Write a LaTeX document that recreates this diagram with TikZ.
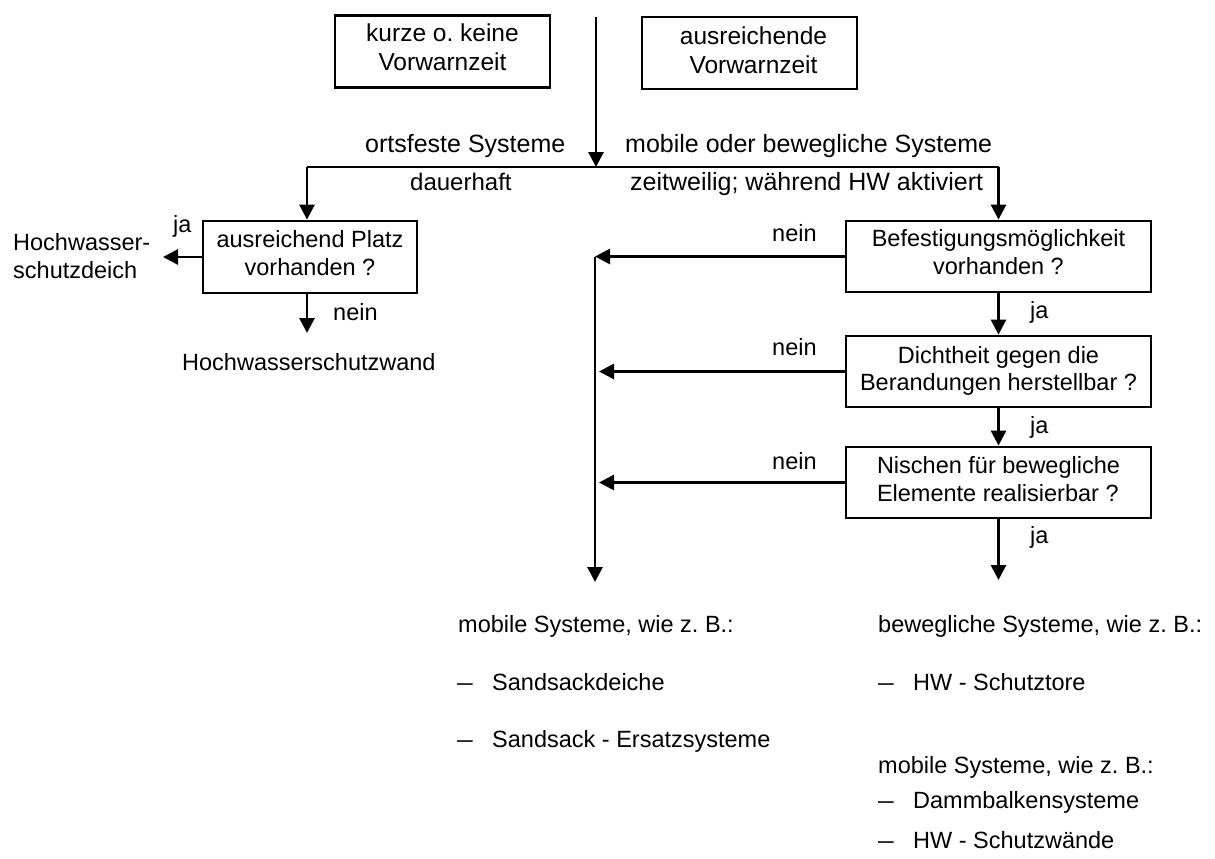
\documentclass[tikz,border=0pt]{standalone}
\usepackage{fontspec}
\setmainfont{Liberation Sans}
\usepackage{graphicx}
\usetikzlibrary{arrows.meta}
\newcommand\myfs[2]{\fontsize{#1}{#2}\selectfont}
\newcommand\mydash{\scalebox{1.2}[1]{–}}
\tikzset{
  ln/.style={line width=2.8pt},
  arr/.style={ln, -{Triangle[length=15pt,width=15pt]}},
  box/.style={draw, line width=2.8pt, inner sep=0pt, align=center, font=\myfs{23.5}{27.5}},
  topbox/.style={box, minimum width=215pt, minimum height=72pt, font=\myfs{24.5}{29}},
  qbox/.style={box, minimum width=305pt, minimum height=71pt},
  lbl/.style={inner sep=0pt, anchor=base west, font=\myfs{23.5}{27}},
  big/.style={lbl, font=\myfs{25}{29}},
}
\frenchspacing
\begin{document}
\frenchspacing
\begin{tikzpicture}[x=1pt,y=-1pt]
\useasboundingbox (0,0) rectangle (1215,859);
% boxes
\node[topbox, text depth=9.5pt] (A) at (442.5,51.5) {kurze o. keine\\Vorwarnzeit};
\node[topbox, text depth=6.5pt] (B) at (749.5,53) {\hspace*{8pt}ausreichende\\\hspace*{8pt}Vorwarnzeit};
\node[box, minimum width=214pt, minimum height=72pt, text depth=7.8pt] (C) at (310,257) {ausreichend Platz\\vorhanden ?};
\node[qbox, text depth=8.8pt] (D) at (998.5,256.5) {Befestigungsmöglichkeit\\vorhanden ?};
\node[qbox, text depth=5.8pt] (E) at (998.5,371.5) {Dichtheit gegen die\\Berandungen herstellbar ?};
\node[qbox, align=left, text depth=7.1pt] (F) at (998.5,482.5) {Nischen für bewegliche\\Elemente realisierbar ?};
% coordinates
\coordinate (start) at (596,17);
\coordinate (jm) at (596,167);
\coordinate (jl) at (307,167);
\coordinate (jr) at (998.5,167);
\coordinate (cl) at (163,257);
\coordinate (cs) at (307,333);
\coordinate (lb) at (595,582);
\coordinate (rb) at (998.5,580);
\path (E.west -| lb) ++(4,0) coordinate (ea);
\path (F.west -| lb) ++(4,0) coordinate (fa);
% connectors
\draw[arr] (start) -- (jm);
\draw[ln] (jl) -- (jr);
\draw[arr] (jl) -- (jl |- C.north);
\draw[arr] (jr) -- (D.north);
\draw[arr] (C.west) -- (cl);
\draw[arr] (jl |- C.south) -- (cs);
\draw[arr] (D.west) -- (D.west -| lb);
\draw[arr] (D.west -| lb) -- (lb);
\draw[arr] (E.west) -- (ea);
\draw[arr] (F.west) -- (fa);
\draw[arr] (D.south) -- (E.north);
\draw[arr] (E.south) -- (F.north);
\draw[arr] (F.south) -- (rb);
% labels
\node[big] (l1) at (365,152) {ortsfeste Systeme};
\node[big] (l2) at (625,152) {mobile oder bewegliche Systeme};
\node[lbl, font=\myfs{24}{28}] (l3) at (410,190) {dauerhaft};
\node[big] (l4) at (630,190) {zeitweilig; während HW aktiviert};
\node[lbl] (ja0) at (173,232) {ja};
\node[inner sep=0pt, anchor=west, align=left, font=\myfs{23.5}{28}] (hwd) at (13,255.6) {Hochwasser-\\schutzdeich};
\node[lbl] (n0) at (333,320) {nein};
\node[lbl] (hww) at (182,370) {Hochwasserschutzwand};
\node[lbl] (n1) at (772,241) {nein};
\node[lbl] (n2) at (772,355) {nein};
\node[lbl] (n3) at (772,469) {nein};
\node[lbl] (ja1) at (1030,318) {ja};
\node[lbl] (ja2) at (1030,433) {ja};
\node[lbl] (ja3) at (1030,543) {ja};
% bottom lists
\node[lbl] (m1) at (458,632) {mobile Systeme, wie z. B.:};
\node[lbl] (d1) at (457,690) {\mydash};
\node[lbl] (s1) at (492,690) {Sandsackdeiche};
\node[lbl] (d2) at (457,747) {\mydash};
\node[lbl] (s2) at (492,747) {Sandsack - Ersatzsysteme};
\node[lbl] (b1) at (878,632) {bewegliche Systeme, wie z. B.:};
\node[lbl] (d3) at (878,690) {\mydash};
\node[lbl] (t1) at (913,690) {HW - Schutztore};
\node[lbl] (m2) at (878,773) {mobile Systeme, wie z. B.:};
\node[lbl] (d4) at (878,808) {\mydash};
\node[lbl] (t2) at (913,808) {Dammbalkensysteme};
\node[lbl] (d5) at (878,848) {\mydash};
\node[lbl] (t3) at (913,848) {HW - Schutzwände};
\end{tikzpicture}
\end{document}
